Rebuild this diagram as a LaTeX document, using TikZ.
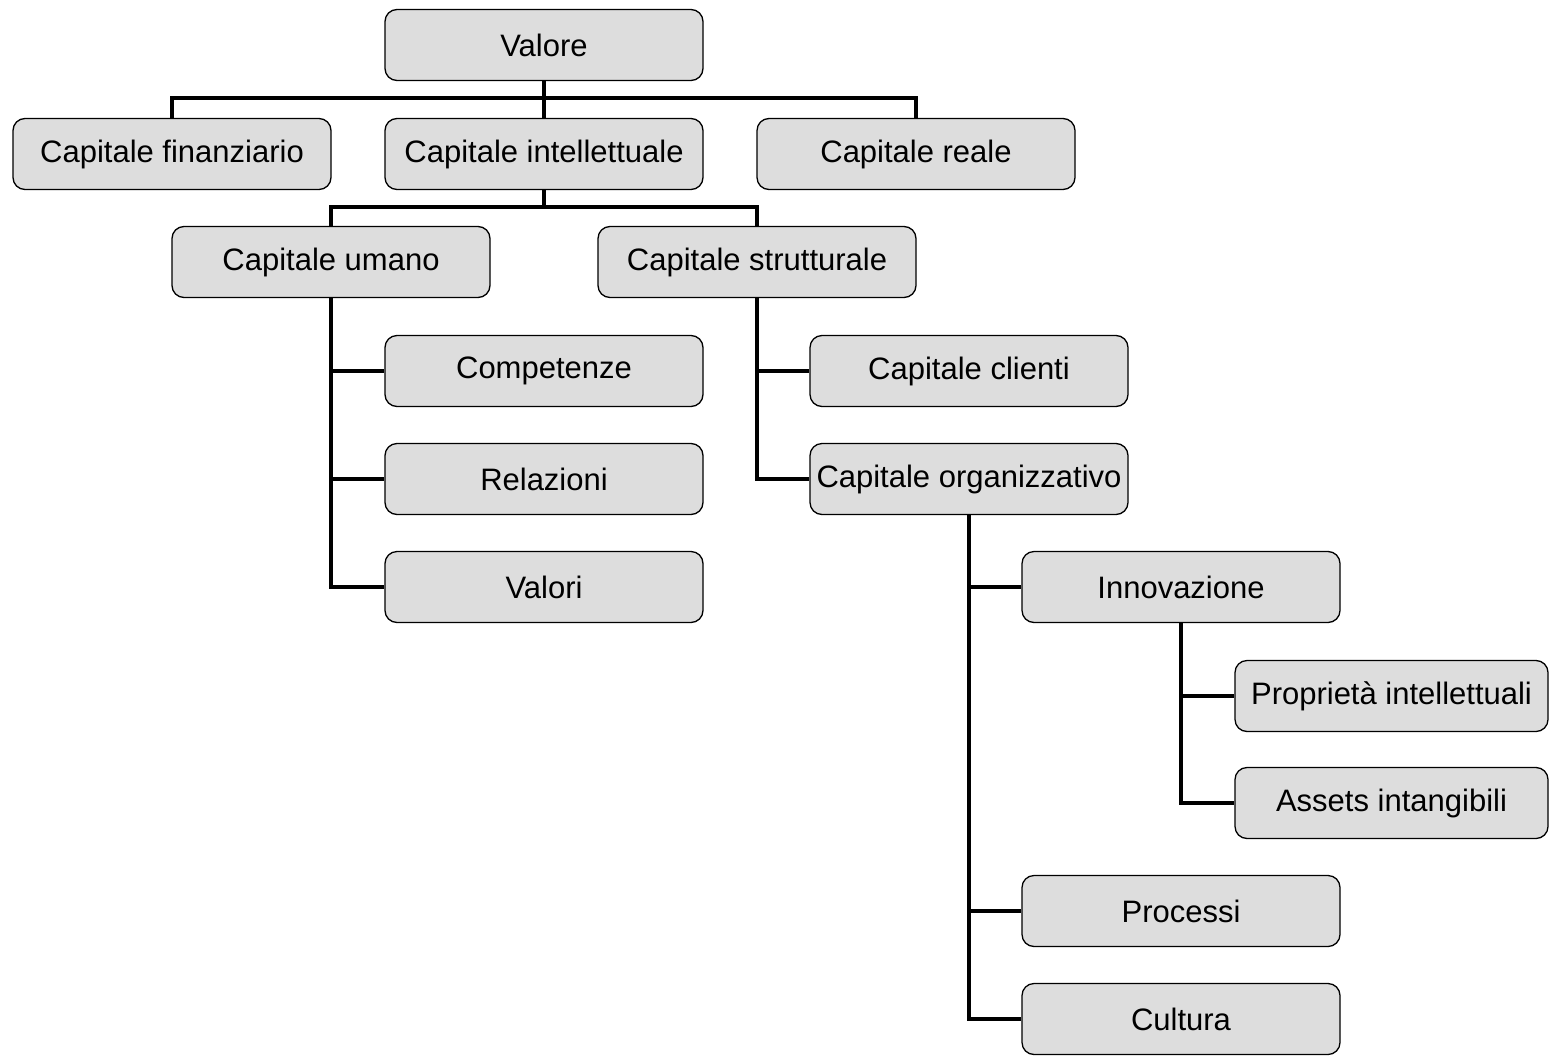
\documentclass[tikz,border=0pt]{standalone}
\usepackage{fontspec}
\setmainfont{Liberation Sans}
\definecolor{boxgray}{HTML}{DDDDDD}
\begin{document}
\begin{tikzpicture}[x=1pt,y=-1pt,
  box/.style={draw=black, line width=1.3pt, fill=boxgray, rounded corners=12pt,
    minimum width=318pt, minimum height=71pt, inner sep=0pt,
    font=\fontsize{31}{36}\selectfont},
  conn/.style={draw=black, line width=4.5pt}]
\useasboundingbox (0,0) rectangle (1549,1055);
\node[box] (v) at (544,45) {\raisebox{-1.5pt}{Valore}};
\node[box] (cf) at (172,154) {\raisebox{-1.5pt}{Capitale finanziario}};
\node[box] (ci) at (544,154) {\raisebox{-1.5pt}{Capitale intellettuale}};
\node[box] (cr) at (916,154) {\raisebox{-1.5pt}{Capitale reale}};
\node[box] (cu) at (331,262) {\raisebox{-1.5pt}{Capitale umano}};
\node[box] (cs) at (757,262) {\raisebox{-1.5pt}{Capitale strutturale}};
\node[box] (comp) at (544,371) {\raisebox{-1.5pt}{Competenze}};
\node[box] (rel) at (544,479) {\raisebox{-1.5pt}{Relazioni}};
\node[box] (vl) at (544,587) {\raisebox{-1.5pt}{Valori}};
\node[box] (cc) at (969,371) {\raisebox{-1.5pt}{Capitale clienti}};
\node[box] (co) at (969,479) {\raisebox{-1.5pt}{Capitale organizzativo}};
\node[box] (inn) at (1181,587) {\raisebox{-1.5pt}{Innovazione}};
\node[box, minimum width=313pt] (pi) at (1391.5,696) {\raisebox{-1.5pt}{Proprietà intellettuali}};
\node[box, minimum width=313pt] (ai) at (1391.5,803) {\raisebox{-1.5pt}{Assets intangibili}};
\node[box] (pr) at (1181,911) {\raisebox{-1.5pt}{Processi}};
\node[box] (cul) at (1181,1019) {\raisebox{-1.5pt}{Cultura}};
% level 1
\draw[conn] (v.south) -- (ci.north);
\draw[conn] (cf.north) -- ++(0,-20) -| (cr.north);
% level 2
\draw[conn] (ci.south) -- ++(0,19);
\draw[conn] (cu.north) -- ++(0,-19) -| (cs.north);
% umano
\draw[conn] (cu.south) |- (vl.west);
\draw[conn] (cu.south |- comp.west) -- (comp.west);
\draw[conn] (cu.south |- rel.west) -- (rel.west);
% strutturale
\draw[conn] (cs.south) |- (co.west);
\draw[conn] (cs.south |- cc.west) -- (cc.west);
% organizzativo
\draw[conn] (co.south) |- (cul.west);
\draw[conn] (co.south |- inn.west) -- (inn.west);
\draw[conn] (co.south |- pr.west) -- (pr.west);
% innovazione
\draw[conn] (inn.south) |- (ai.west);
\draw[conn] (inn.south |- pi.west) -- (pi.west);
\end{tikzpicture}
\end{document}
